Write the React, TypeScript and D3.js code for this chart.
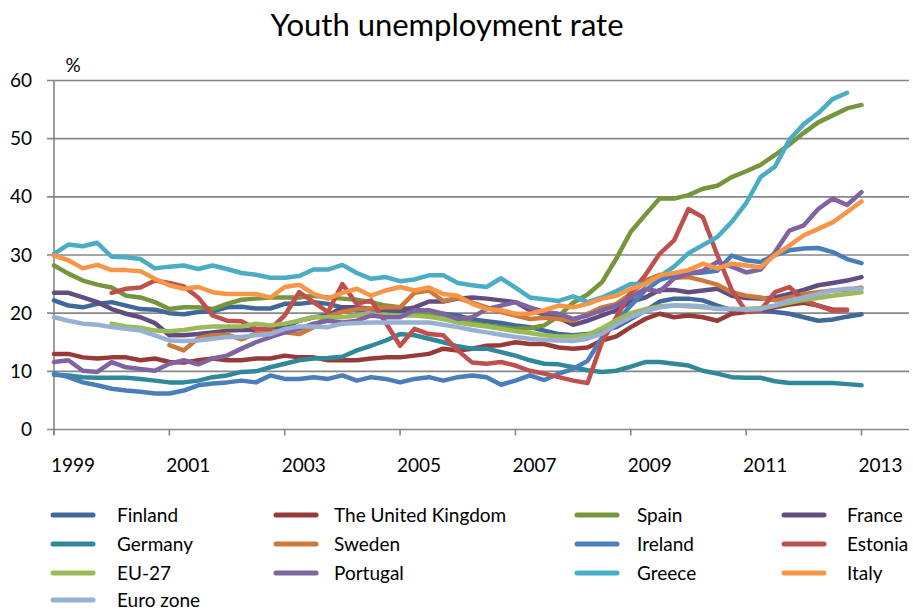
import React from "react";
import * as d3 from "d3";

const W = 913;
const H = 611;

const yearLabels = ["1999", "2001", "2003", "2005", "2007", "2009", "2011", "2013"];
const yTicks = [0, 10, 20, 30, 40, 50, 60];

const finland = [22.2, 21.3, 21.0, 21.6, 21.9, 21.3, 20.7, 20.6, 20.0, 19.8,
  20.2, 20.3, 21.0, 21.1, 20.8, 20.8, 21.6, 21.6, 21.9, 21.6,
  21.0, 20.5, 20.7, 20.5, 20.2, 20.0, 19.9, 19.9, 19.6, 18.9,
  18.6, 18.3, 17.9, 17.6, 17.0, 16.4, 16.2, 16.4, 17.0, 17.6,
  19.0, 20.4, 22.0, 22.5, 22.5, 22.2, 21.3, 20.5, 20.5, 20.5,
  20.2, 19.9, 19.3, 18.7, 18.9, 19.4, 19.8];
const unitedKingdom = [13.0, 13.0, 12.4, 12.2, 12.4, 12.4, 11.9, 12.2, 11.6, 11.5,
  11.9, 12.2, 11.9, 11.9, 12.2, 12.2, 12.7, 12.4, 12.4, 11.9,
  11.9, 11.9, 12.2, 12.4, 12.4, 12.7, 13.0, 13.9, 13.6, 13.9,
  14.4, 14.5, 15.0, 14.7, 14.7, 14.1, 13.9, 14.1, 15.3, 16.0,
  17.6, 19.0, 19.9, 19.3, 19.6, 19.3, 18.7, 19.9, 20.2, 20.5,
  21.0, 21.5, 21.8, 21.3, 20.6, 20.6, null];
const spain = [28.2, 26.8, 25.6, 24.9, 24.4, 23.0, 22.7, 21.9, 20.7, 21.0,
  21.0, 20.7, 21.6, 22.3, 22.5, 22.7, 22.7, 22.7, 23.0, 22.7,
  22.5, 22.3, 21.9, 21.3, 21.0, 20.5, 19.9, 19.3, 18.8, 18.3,
  17.9, 17.6, 17.3, 17.4, 17.9, 19.5, 21.8, 23.2, 25.3, 29.4,
  34.0, 36.9, 39.7, 39.7, 40.3, 41.4, 41.9, 43.4, 44.4, 45.5,
  47.2, 49.0, 51.0, 52.8, 54.0, 55.2, 55.8];
const france = [23.5, 23.5, 22.7, 21.9, 20.7, 19.9, 19.3, 18.3, 16.2, 16.2,
  16.4, 16.7, 17.0, 17.1, 17.1, 17.3, 17.6, 18.7, 19.3, 19.6,
  21.0, 21.0, 20.7, 20.6, 20.5, 21.0, 22.0, 22.0, 22.5, 22.7,
  22.5, 22.2, 21.9, 20.5, 19.8, 19.2, 18.0, 18.7, 19.6, 20.5,
  22.0, 22.7, 24.0, 24.0, 23.6, 23.9, 24.2, 23.0, 22.6, 22.5,
  22.7, 23.3, 24.0, 24.8, 25.2, 25.6, 26.2];
const germany = [9.4, 9.3, 9.0, 8.9, 8.9, 8.9, 8.7, 8.4, 8.1, 8.1,
  8.4, 9.0, 9.3, 9.9, 10.0, 10.7, 11.3, 11.9, 12.2, 12.3,
  12.5, 13.6, 14.4, 15.3, 16.4, 16.2, 15.6, 15.0, 14.3, 13.9,
  13.9, 13.3, 12.7, 11.9, 11.3, 11.2, 10.7, 10.2, 9.9, 10.1,
  10.8, 11.6, 11.6, 11.3, 11.0, 10.1, 9.6, 9.0, 8.9, 8.9,
  8.3, 8.0, 8.0, 8.0, 8.0, 7.8, 7.6];
const sweden = [null, null, null, null, null, null, null, null, 14.5, 13.6,
  15.7, 16.2, 16.3, 15.5, 16.5, 17.0, 16.7, 16.4, 17.6, 19.5,
  20.2, 20.7, 20.8, 21.0, 21.0, 23.5, 23.9, 22.1, 22.6, 21.8,
  21.0, 20.2, 19.6, 19.0, 19.2, 19.0, 18.7, 19.9, 21.0, 21.6,
  23.3, 25.6, 26.6, 26.1, 26.2, 25.6, 24.9, 23.6, 23.0, 22.7,
  22.2, 22.7, 23.3, 23.6, 23.9, 24.0, 24.4];
const ireland = [9.6, 9.0, 8.1, 7.6, 7.0, 6.7, 6.5, 6.2, 6.2, 6.7,
  7.6, 7.9, 8.1, 8.4, 8.1, 9.3, 8.7, 8.7, 9.0, 8.7,
  9.3, 8.4, 9.0, 8.7, 8.1, 8.7, 9.0, 8.4, 9.0, 9.3,
  9.0, 7.7, 8.4, 9.3, 8.5, 9.6, 10.4, 11.8, 15.8, 18.5,
  21.3, 23.9, 25.7, 26.5, 26.8, 27.0, 27.3, 29.9, 29.1, 28.8,
  30.0, 30.8, 31.1, 31.2, 30.5, 29.3, 28.6];
const estonia = [null, null, null, null, 23.5, 24.2, 24.4, 25.6, 25.2, 24.6,
  22.7, 19.6, 18.7, 18.6, 17.3, 17.3, 19.6, 23.6, 21.9, 20.2,
  25.0, 21.6, 22.2, 18.4, 14.4, 17.3, 16.4, 16.2, 13.6, 11.5,
  11.3, 11.6, 11.0, 10.1, 9.6, 9.0, 8.4, 8.0, 15.0, 19.3,
  23.6, 26.5, 30.2, 32.5, 37.9, 36.5, 30.0, 24.0, 20.3, 20.5,
  23.6, 24.5, 22.2, 21.3, 20.4, 20.5, null];
const eu27 = [null, null, null, null, 18.2, 17.7, 17.5, 17.0, 16.9, 17.1,
  17.5, 17.7, 17.7, 17.7, 18.2, 17.9, 18.2, 18.7, 19.3, 19.3,
  19.3, 19.6, 19.6, 19.7, 19.6, 19.6, 19.4, 19.0, 18.4, 18.0,
  17.7, 17.3, 16.9, 16.6, 16.2, 16.0, 16.0, 16.3, 17.4, 18.8,
  20.0, 20.7, 21.2, 21.3, 21.2, 21.0, 20.8, 20.7, 20.7, 20.9,
  21.3, 21.8, 22.3, 22.6, 23.0, 23.3, 23.6];
const portugal = [11.6, 11.9, 10.1, 9.9, 11.6, 10.7, 10.4, 10.1, 11.3, 11.9,
  11.2, 12.2, 12.7, 13.9, 15.0, 15.9, 16.7, 17.3, 18.2, 18.7,
  18.4, 18.7, 19.6, 19.3, 19.3, 20.5, 20.5, 19.9, 19.0, 19.3,
  20.7, 21.3, 21.9, 21.0, 20.2, 19.9, 19.0, 19.6, 20.5, 21.3,
  22.7, 24.2, 23.7, 26.0, 26.8, 27.3, 28.8, 28.0, 27.0, 27.5,
  30.5, 34.2, 35.1, 37.9, 39.7, 38.6, 40.8];
const greece = [30.2, 31.8, 31.5, 32.1, 29.7, 29.6, 29.3, 27.7, 28.0, 28.2,
  27.6, 28.2, 27.6, 26.9, 26.6, 26.1, 26.1, 26.4, 27.5, 27.5,
  28.3, 26.9, 25.9, 26.2, 25.5, 25.8, 26.5, 26.5, 25.2, 24.8,
  24.5, 26.0, 24.4, 22.7, 22.4, 22.1, 22.9, 21.9, 22.7, 23.8,
  25.0, 25.0, 26.3, 28.0, 30.3, 31.7, 33.1, 35.7, 38.9, 43.4,
  45.2, 49.8, 52.5, 54.4, 56.8, 57.9, null];
const italy = [29.9, 29.1, 27.7, 28.3, 27.4, 27.4, 27.2, 25.9, 24.8, 24.2,
  24.5, 23.6, 23.3, 23.3, 23.3, 22.7, 24.5, 24.9, 23.3, 22.5,
  23.5, 24.2, 23.0, 23.9, 24.5, 23.9, 24.4, 23.3, 23.0, 21.6,
  20.7, 20.5, 19.9, 19.9, 20.5, 21.3, 21.0, 21.6, 22.5, 23.0,
  24.2, 25.0, 26.5, 26.9, 27.4, 28.5, 27.7, 28.5, 28.2, 27.9,
  30.0, 31.6, 33.4, 34.5, 35.6, 37.4, 39.2];
const euroZone = [19.3, 18.7, 18.2, 18.0, 17.6, 17.3, 17.0, 16.2, 15.3, 15.2,
  15.3, 15.6, 15.9, 15.9, 16.2, 16.4, 17.3, 17.7, 17.7, 17.6,
  18.2, 18.3, 18.4, 18.4, 18.4, 18.4, 18.4, 18.0, 17.6, 17.1,
  16.7, 16.3, 15.9, 15.6, 15.4, 15.3, 15.2, 15.6, 16.5, 18.0,
  19.3, 20.3, 21.0, 21.3, 21.3, 21.2, 20.7, 20.7, 20.6, 20.7,
  21.3, 22.2, 22.7, 23.3, 23.9, 24.2, 24.2];

const seriesNames = ["Finland", "The United Kingdom", "Spain", "France", "Germany", "Sweden",
  "Ireland", "Estonia", "EU-27", "Portugal", "Greece", "Italy", "Euro zone"];
const seriesValues = [finland, unitedKingdom, spain, france, germany, sweden,
  ireland, estonia, eu27, portugal, greece, italy, euroZone];
const seriesColors = ["#40699A", "#973B39", "#77953D", "#614D80", "#32889B", "#CB7A3C",
  "#4A7EBB", "#C0504D", "#9BBB59", "#8064A2", "#4BACC6", "#F79646", "#97B0D3"];

const FONT = "Lato, 'Open Sans', sans-serif";

export default function App() {
  const x = d3.scaleLinear().domain([0, 56]).range([54, 861.5]);
  const y = d3.scaleLinear().domain([0, 60]).range([429.5, 80.5]);
  const plotRight = 909;
  const line = d3
    .line<number | null>()
    .defined((d) => d != null)
    .x((_, i) => x(i))
    .y((d) => y(d as number));

  const legendColX = [51, 274, 575, 782];
  const legendTextX = [117, 334, 637, 847];
  const legendRowY = [515, 544, 573, 600];

  return (
    <div style={{ position: "absolute", left: 0, top: 0 }}>
      <svg width={W} height={H} style={{ display: "block", background: "#fff" }}>
        <text x={447} y={36} textAnchor="middle" fontFamily={FONT} fontSize={31} fill="#000">
          Youth unemployment rate
        </text>
        <text x={73} y={72} textAnchor="middle" fontFamily={FONT} fontSize={19} fill="#000">%</text>
        {yTicks.map((t) => (
          <g key={t}>
            <line x1={47} x2={plotRight} y1={y(t)} y2={y(t)} stroke="#878787" strokeWidth={1.6} />
            <text x={32} y={y(t)} dy="0.35em" textAnchor="end" fontFamily={FONT} fontSize={19} fill="#000">
              {t}
            </text>
          </g>
        ))}
        <line x1={54} x2={54} y1={y(60)} y2={y(0) + 5} stroke="#878787" strokeWidth={1.6} />
        {yearLabels.map((lab, k) => (
          <g key={lab}>
            <line x1={x(k * 8)} x2={x(k * 8)} y1={y(0)} y2={y(0) + 6} stroke="#878787" strokeWidth={1.6} />
            <text x={x(k * 8) + 19} y={472} textAnchor="middle" fontFamily={FONT} fontSize={19} fill="#000">
              {lab}
            </text>
          </g>
        ))}
        {seriesValues.map((vals, s) => (
          <path
            key={seriesNames[s]}
            d={line(vals) || ""}
            fill="none"
            stroke={seriesColors[s]}
            strokeWidth={4.5}
            strokeLinejoin="round"
            strokeLinecap="round"
          />
        ))}
        {seriesNames.map((name, s) => {
          const col = s % 4;
          const row = Math.floor(s / 4);
          const ly = legendRowY[row];
          return (
            <g key={name}>
              <line x1={legendColX[col] + 2} x2={legendColX[col] + 42} y1={ly} y2={ly}
                stroke={seriesColors[s]} strokeWidth={5} strokeLinecap="round" />
              <text x={legendTextX[col]} y={ly} dy="0.35em" fontFamily={FONT} fontSize={19} fill="#000">
                {name}
              </text>
            </g>
          );
        })}
      </svg>
    </div>
  );
}
